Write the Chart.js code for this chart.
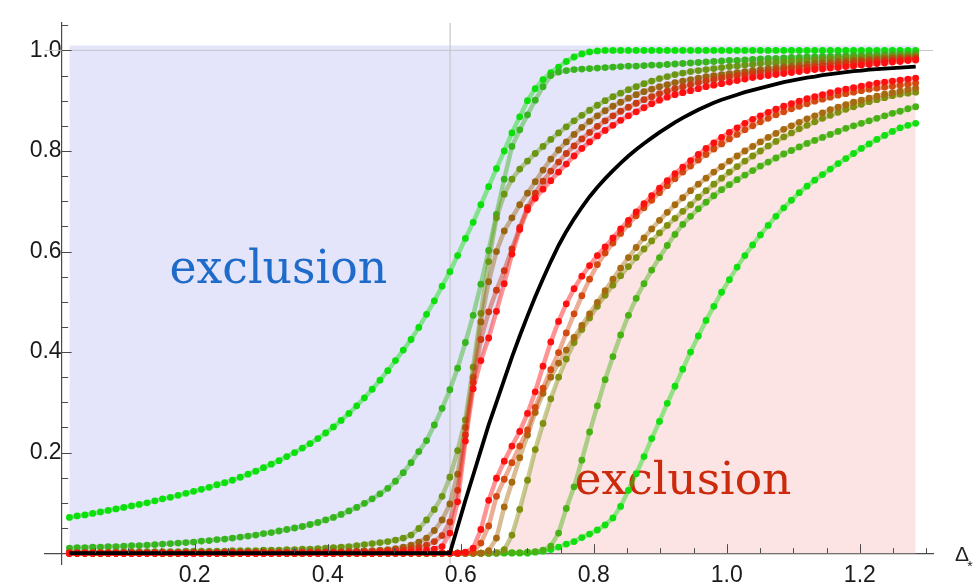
<!DOCTYPE html>
<html>
<head>
<meta charset="utf-8">
<title>Δ* exclusion curves</title>
<script src="https://cdn.jsdelivr.net/npm/chart.js@4.4.1/dist/chart.umd.min.js"></script>
<style>
  html, body { margin: 0; padding: 0; background: #fff; }
  #wrap { position: relative; width: 979px; height: 587px; }
</style>
</head>
<body>
<div id="wrap"><canvas id="deltaChart" width="979" height="587"></canvas></div>
<script>
/* =========================================================================
   Δ* sweep — dotted curves, black reference curve, two exclusion regions
   ========================================================================= */
'use strict';

/* Sample points on the Δ* axis */
const DELTA = [
  0.0117,0.0233,0.0350,0.0467,0.0584,0.0700,0.0817,0.0934,0.1051,0.1167,
  0.1284,0.1401,0.1517,0.1634,0.1751,0.1868,0.1984,0.2101,0.2218,0.2335,
  0.2451,0.2568,0.2685,0.2802,0.2918,0.3035,0.3152,0.3268,0.3385,0.3502,
  0.3619,0.3735,0.3852,0.3969,0.4086,0.4202,0.4319,0.4436,0.4552,0.4669,
  0.4786,0.4903,0.5019,0.5136,0.5253,0.5370,0.5486,0.5603,0.5720,0.5837,
  0.5953,0.6070,0.6187,0.6303,0.6420,0.6537,0.6654,0.6770,0.6887,0.7004,
  0.7120,0.7237,0.7354,0.7471,0.7587,0.7704,0.7821,0.7937,0.8054,0.8171,
  0.8288,0.8404,0.8521,0.8638,0.8755,0.8871,0.8988,0.9105,0.9221,0.9338,
  0.9455,0.9572,0.9688,0.9805,0.9922,1.0039,1.0155,1.0272,1.0389,1.0505,
  1.0622,1.0739,1.0856,1.0972,1.1089,1.1206,1.1322,1.1439,1.1556,1.1673,
  1.1789,1.1906,1.2023,1.2140,1.2256,1.2373,1.2490,1.2606,1.2723,1.2840
];

/* Upper family (rises before the black curve) */
const UP_GREEN = [
  0.071,0.074,0.076,0.079,0.082,0.085,0.088,0.091,0.094,0.097,
  0.100,0.104,0.108,0.111,0.115,0.119,0.123,0.127,0.131,0.136,
  0.140,0.145,0.151,0.157,0.163,0.170,0.177,0.184,0.192,0.200,
  0.209,0.218,0.228,0.239,0.251,0.264,0.278,0.293,0.309,0.326,
  0.344,0.363,0.383,0.404,0.425,0.449,0.475,0.502,0.531,0.560,
  0.592,0.626,0.658,0.693,0.729,0.765,0.800,0.836,0.868,0.900,
  0.924,0.942,0.956,0.967,0.978,0.987,0.993,0.997,0.999,1.000,
  1.000,1.000,1.000,1.000,1.000,1.000,1.000,1.000,1.000,1.000,
  1.000,1.000,1.000,1.000,1.000,1.000,1.000,1.000,1.000,1.000,
  1.000,1.000,1.000,1.000,1.000,1.000,1.000,1.000,1.000,1.000,
  1.000,1.000,1.000,1.000,1.000,1.000,1.000,1.000,1.000,1.000
];
const UP_MIDGREEN = [
  0.010,0.011,0.011,0.012,0.012,0.013,0.013,0.014,0.015,0.015,
  0.016,0.017,0.018,0.019,0.020,0.021,0.022,0.024,0.025,0.027,
  0.028,0.030,0.032,0.034,0.036,0.039,0.041,0.044,0.047,0.050,
  0.053,0.057,0.061,0.066,0.071,0.077,0.084,0.091,0.099,0.108,
  0.118,0.129,0.143,0.160,0.180,0.202,0.224,0.255,0.288,0.325,
  0.368,0.419,0.473,0.535,0.602,0.674,0.744,0.809,0.842,0.872,
  0.901,0.928,0.950,0.957,0.960,0.962,0.963,0.964,0.965,0.966,
  0.967,0.968,0.969,0.969,0.970,0.971,0.971,0.972,0.973,0.974,
  0.975,0.976,0.977,0.978,0.979,0.980,0.980,0.981,0.982,0.983,
  0.984,0.984,0.985,0.986,0.986,0.987,0.987,0.988,0.988,0.989,
  0.989,0.990,0.990,0.991,0.991,0.992,0.992,0.993,0.993,0.994
];
const UP_OLIVE = [
  0.002,0.002,0.002,0.002,0.002,0.002,0.003,0.003,0.003,0.003,
  0.003,0.003,0.003,0.003,0.003,0.004,0.004,0.004,0.004,0.004,
  0.004,0.005,0.005,0.005,0.005,0.006,0.006,0.006,0.007,0.007,
  0.008,0.008,0.009,0.010,0.011,0.012,0.013,0.015,0.017,0.019,
  0.021,0.023,0.026,0.030,0.036,0.049,0.066,0.087,0.113,0.151,
  0.204,0.265,0.370,0.477,0.580,0.667,0.714,0.744,0.764,0.780,
  0.795,0.809,0.823,0.836,0.848,0.860,0.871,0.881,0.891,0.900,
  0.908,0.915,0.922,0.928,0.934,0.939,0.944,0.948,0.952,0.955,
  0.958,0.960,0.962,0.964,0.966,0.968,0.969,0.971,0.972,0.974,
  0.975,0.976,0.977,0.978,0.979,0.980,0.981,0.982,0.983,0.984,
  0.985,0.985,0.986,0.987,0.987,0.988,0.989,0.989,0.990,0.991
];
const UP_BROWN = [
  0.001,0.001,0.001,0.001,0.001,0.001,0.001,0.001,0.001,0.001,
  0.001,0.001,0.001,0.001,0.001,0.001,0.001,0.001,0.001,0.001,
  0.002,0.002,0.002,0.002,0.002,0.002,0.002,0.002,0.002,0.002,
  0.003,0.003,0.003,0.003,0.003,0.003,0.004,0.004,0.004,0.005,
  0.006,0.007,0.009,0.012,0.016,0.022,0.030,0.045,0.066,0.098,
  0.157,0.250,0.350,0.460,0.540,0.600,0.641,0.667,0.693,0.716,
  0.739,0.762,0.784,0.802,0.818,0.833,0.847,0.859,0.870,0.880,
  0.889,0.897,0.905,0.912,0.918,0.923,0.928,0.932,0.936,0.939,
  0.942,0.945,0.948,0.950,0.952,0.954,0.956,0.958,0.960,0.962,
  0.964,0.966,0.968,0.969,0.971,0.972,0.974,0.975,0.976,0.978,
  0.979,0.980,0.981,0.982,0.983,0.984,0.985,0.986,0.986,0.987
];
const UP_DARKRED = [
  0,0,0,0,0,0,0,0,0,0,
  0,0,0,0,0,0,0,0,0,0,
  0.001,0.001,0.001,0.001,0.001,0.001,0.001,0.001,0.001,0.001,
  0.001,0.001,0.001,0.002,0.002,0.002,0.002,0.003,0.003,0.003,
  0.004,0.005,0.006,0.007,0.009,0.012,0.016,0.023,0.035,0.062,
  0.125,0.235,0.340,0.425,0.480,0.523,0.562,0.605,0.648,0.688,
  0.716,0.740,0.760,0.778,0.795,0.810,0.824,0.837,0.849,0.860,
  0.870,0.879,0.887,0.895,0.902,0.908,0.914,0.919,0.924,0.928,
  0.932,0.936,0.939,0.942,0.945,0.947,0.950,0.952,0.954,0.956,
  0.958,0.960,0.962,0.964,0.965,0.967,0.968,0.970,0.971,0.973,
  0.974,0.975,0.977,0.978,0.979,0.980,0.981,0.982,0.983,0.984
];
const UP_RED = [
  0,0,0,0,0,0,0,0,0,0,
  0,0,0,0,0,0,0,0,0,0,
  0,0,0,0,0,0,0,0,0,0,
  0,0,0,0,0,0,0,0,0,0,
  0.001,0.001,0.002,0.002,0.003,0.004,0.006,0.008,0.013,0.040,
  0.102,0.223,0.327,0.383,0.428,0.481,0.536,0.595,0.644,0.683,
  0.706,0.724,0.741,0.758,0.774,0.790,0.805,0.818,0.830,0.841,
  0.851,0.861,0.870,0.878,0.886,0.894,0.901,0.907,0.912,0.916,
  0.920,0.924,0.928,0.931,0.934,0.937,0.940,0.943,0.946,0.948,
  0.950,0.952,0.954,0.956,0.958,0.960,0.962,0.963,0.965,0.966,
  0.968,0.969,0.971,0.972,0.974,0.975,0.977,0.978,0.980,0.981
];

/* Black reference curve */
const BLACK = [
  0,0,0,0,0,0,0,0,0,0,
  0,0,0,0,0,0,0,0,0,0,
  0,0,0,0,0,0,0,0,0,0,
  0,0,0,0,0,0,0,0,0,0,
  0,0,0,0,0,0,0,0,0,0,
  0.052,0.105,0.155,0.205,0.255,0.300,0.345,0.390,0.432,0.472,
  0.510,0.546,0.580,0.612,0.640,0.665,0.688,0.709,0.728,0.745,
  0.761,0.776,0.790,0.803,0.815,0.826,0.837,0.847,0.857,0.866,
  0.874,0.882,0.889,0.896,0.902,0.907,0.912,0.917,0.921,0.925,
  0.929,0.933,0.937,0.940,0.943,0.946,0.948,0.951,0.953,0.955,
  0.957,0.959,0.960,0.962,0.963,0.964,0.965,0.966,0.967,0.968
];

/* Lower family (rises after the black curve) */
const LO_RED = [
  0,0,0,0,0,0,0,0,0,0,
  0,0,0,0,0,0,0,0,0,0,
  0,0,0,0,0,0,0,0,0,0,
  0,0,0,0,0,0,0,0,0,0,
  0,0,0,0,0,0,0,0,0,0,
  0.000,0.002,0.010,0.047,0.105,0.149,0.183,0.213,0.242,0.278,
  0.321,0.372,0.420,0.461,0.496,0.526,0.551,0.572,0.592,0.609,
  0.627,0.645,0.662,0.679,0.695,0.711,0.726,0.741,0.755,0.768,
  0.781,0.793,0.805,0.816,0.827,0.837,0.846,0.855,0.863,0.870,
  0.877,0.883,0.889,0.894,0.899,0.904,0.908,0.912,0.916,0.920,
  0.923,0.926,0.929,0.932,0.935,0.937,0.939,0.941,0.943,0.945
];
const LO_ORANGE = [
  0,0,0,0,0,0,0,0,0,0,
  0,0,0,0,0,0,0,0,0,0,
  0,0,0,0,0,0,0,0,0,0,
  0,0,0,0,0,0,0,0,0,0,
  0,0,0,0,0,0,0,0,0,0,
  0.000,0.000,0.002,0.020,0.054,0.113,0.147,0.180,0.213,0.245,
  0.290,0.328,0.365,0.399,0.438,0.476,0.512,0.545,0.574,0.597,
  0.617,0.636,0.654,0.671,0.687,0.702,0.717,0.731,0.745,0.758,
  0.770,0.782,0.793,0.804,0.814,0.824,0.833,0.842,0.850,0.858,
  0.865,0.872,0.878,0.884,0.889,0.894,0.899,0.903,0.907,0.911,
  0.914,0.917,0.920,0.923,0.925,0.927,0.929,0.931,0.933,0.935
];
const LO_BROWN = [
  0,0,0,0,0,0,0,0,0,0,
  0,0,0,0,0,0,0,0,0,0,
  0,0,0,0,0,0,0,0,0,0,
  0,0,0,0,0,0,0,0,0,0,
  0,0,0,0,0,0,0,0,0,0,
  0.000,0.000,0.000,0.000,0.005,0.030,0.092,0.141,0.190,0.235,
  0.280,0.318,0.350,0.378,0.404,0.429,0.453,0.476,0.499,0.522,
  0.545,0.567,0.588,0.608,0.627,0.645,0.662,0.678,0.693,0.707,
  0.721,0.734,0.746,0.758,0.769,0.780,0.790,0.800,0.809,0.818,
  0.827,0.835,0.843,0.850,0.857,0.864,0.870,0.876,0.882,0.887,
  0.892,0.897,0.901,0.905,0.909,0.913,0.916,0.919,0.922,0.925
];
const LO_OLIVE = [
  0,0,0,0,0,0,0,0,0,0,
  0,0,0,0,0,0,0,0,0,0,
  0,0,0,0,0,0,0,0,0,0,
  0,0,0,0,0,0,0,0,0,0,
  0,0,0,0,0,0,0,0,0,0,
  0.000,0.000,0.000,0.000,0.000,0.001,0.007,0.036,0.087,0.145,
  0.206,0.258,0.307,0.350,0.386,0.419,0.445,0.468,0.491,0.513,
  0.533,0.552,0.570,0.588,0.605,0.621,0.637,0.652,0.666,0.680,
  0.693,0.708,0.721,0.734,0.746,0.758,0.769,0.780,0.790,0.800,
  0.810,0.819,0.828,0.836,0.844,0.851,0.858,0.865,0.871,0.877,
  0.883,0.888,0.893,0.898,0.902,0.906,0.910,0.913,0.915,0.917
];
const LO_MIDGREEN = [
  0,0,0,0,0,0,0,0,0,0,
  0,0,0,0,0,0,0,0,0,0,
  0,0,0,0,0,0,0,0,0,0,
  0,0,0,0,0,0,0,0,0,0,
  0,0,0,0,0,0,0,0,0,0,
  0.000,0.000,0.000,0.000,0.000,0.000,0.001,0.001,0.001,0.002,
  0.003,0.006,0.014,0.040,0.089,0.132,0.185,0.241,0.293,0.345,
  0.391,0.434,0.473,0.507,0.536,0.563,0.588,0.612,0.634,0.654,
  0.670,0.685,0.698,0.711,0.723,0.733,0.743,0.752,0.761,0.770,
  0.778,0.786,0.794,0.801,0.808,0.815,0.821,0.827,0.833,0.839,
  0.845,0.850,0.855,0.860,0.865,0.870,0.875,0.879,0.884,0.888
];
const LO_GREEN = [
  0,0,0,0,0,0,0,0,0,0,
  0,0,0,0,0,0,0,0,0,0,
  0,0,0,0,0,0,0,0,0,0,
  0,0,0,0,0,0,0,0,0,0,
  0,0,0,0,0,0,0,0,0,0,
  0,0,0,0,0,0,0,0,0,0,
  0.002,0.004,0.007,0.012,0.018,0.023,0.031,0.038,0.046,0.056,
  0.070,0.093,0.125,0.158,0.192,0.228,0.262,0.298,0.332,0.366,
  0.400,0.432,0.463,0.491,0.519,0.544,0.569,0.592,0.613,0.633,
  0.652,0.670,0.687,0.702,0.717,0.730,0.742,0.753,0.764,0.775,
  0.785,0.795,0.805,0.814,0.823,0.831,0.839,0.846,0.851,0.855
];

/* Axis ticks and reference lines */
const X_TICKS = [0.2, 0.4, 0.6, 0.8, 1.0, 1.2];
const Y_TICKS = [0.2, 0.4, 0.6, 0.8, 1.0];
const X_MIN = -0.025, X_MAX = 1.31;
const Y_MIN = -0.022, Y_MAX = 1.055;
const GAP_X = 0.584;     // vertical grid line
const UNIT_Y = 1;        // horizontal grid line
const BLUE_TOP = 1.01;   // upper edge of the blue band

const LABEL_FONT = "'Liberation Sans', Arial, sans-serif";

function fade(hex, a) {
    var n = parseInt(hex.slice(1), 16);
    return 'rgba(' + (n >> 16) + ',' + ((n >> 8) & 255) + ',' + (n & 255) + ',' + a + ')';
}

function pts(ys) {
    return DELTA.map(function (x, i) { return { x: x, y: ys[i] }; });
}

function dotted(label, ys, color, order) {
    return {
        label: label, data: pts(ys), order: order,
        borderColor: fade(color, 0.45), borderWidth: 4.5,
        pointRadius: 3.4, pointHoverRadius: 3.4, pointBorderWidth: 0,
        pointBackgroundColor: color, fill: false
    };
}

var datasets = [
    dotted('up green', UP_GREEN, '#0ce00c', 20),
    dotted('up mid green', UP_MIDGREEN, '#36b51e', 19),
    dotted('up olive', UP_OLIVE, '#6a9612', 18),
    dotted('up brown', UP_BROWN, '#9a6512', 17),
    dotted('up dark red', UP_DARKRED, '#cc3a12', 16),
    dotted('up red', UP_RED, '#ff1010', 15),
    dotted('lo green', LO_GREEN, '#10e010', 20),
    dotted('lo mid green', LO_MIDGREEN, '#48b215', 19),
    dotted('lo olive', LO_OLIVE, '#7f9010', 18),
    dotted('lo brown', LO_BROWN, '#a86a10', 17),
    dotted('lo orange', LO_ORANGE, '#d24a10', 16),
    dotted('lo red', LO_RED, '#ff1010', 15),
    {
        label: 'reference', data: pts(BLACK), order: 1,
        borderColor: '#000', borderWidth: 3.8, pointRadius: 0, fill: false
    }
];
var upRedIndex = 5;

// Shaded exclusion regions: blue above the upper red curve, pink under the lower olive one
datasets.push({
    label: 'blue band', order: 100,
    data: DELTA.map(function (x) { return { x: x, y: BLUE_TOP }; }),
    borderWidth: 0, pointRadius: 0,
    backgroundColor: '#e4e4fa', fill: { target: upRedIndex }
});
datasets.push({
    label: 'pink band', order: 100, data: pts(LO_OLIVE),
    borderWidth: 0, pointRadius: 0,
    backgroundColor: '#fde4e4', fill: 'origin'
});

// Thin grid lines at the gap and at y = 1
datasets.push({
    label: 'gap line', order: 90,
    data: [{ x: GAP_X, y: Y_MIN }, { x: GAP_X, y: Y_MAX }],
    borderColor: '#c6c6c6', borderWidth: 1.2, pointRadius: 0, fill: false
});
datasets.push({
    label: 'unit line', order: 90,
    data: [{ x: X_MIN, y: UNIT_Y }, { x: X_MAX, y: UNIT_Y }],
    borderColor: '#c6c6cc', borderWidth: 1, pointRadius: 0, fill: false
});

/* Inward major/minor tick marks, Mathematica style */
var axisTicks = {
    id: 'axisTicks',
    afterDraw: function (chart) {
        var ctx = chart.ctx, xs = chart.scales.x, ys = chart.scales.y;
        var x0 = xs.getPixelForValue(0), y0 = ys.getPixelForValue(0);
        ctx.save();
        ctx.strokeStyle = '#4a4a4a';
        ctx.lineWidth = 1;
        ctx.beginPath();
        for (var k = 1; k <= 26; k++) {
            var px = Math.round(xs.getPixelForValue(k * 0.05)) + 0.5;
            ctx.moveTo(px, y0);
            ctx.lineTo(px, y0 - (k % 4 === 0 ? 9 : 5));
        }
        for (var j = 1; j <= 21; j++) {
            var py = Math.round(ys.getPixelForValue(j * 0.05)) + 0.5;
            ctx.moveTo(x0, py);
            ctx.lineTo(x0 + (j % 4 === 0 ? 10 : 6.5), py);
        }
        ctx.stroke();
        ctx.restore();
    }
};

/* Region captions and the axis name */
function caption(ctx, text, x, y, width, color) {
    ctx.font = '40px "DejaVu Serif", serif';
    var size = 40 * width / ctx.measureText(text).width;
    ctx.font = size.toFixed(1) + 'px "DejaVu Serif", serif';
    ctx.fillStyle = color;
    ctx.textBaseline = 'alphabetic';
    ctx.textAlign = 'left';
    ctx.fillText(text, x, y);
}

var captions = {
    id: 'captions',
    beforeDatasetsDraw: function (chart) {
        var ctx = chart.ctx, xs = chart.scales.x, ys = chart.scales.y;
        ctx.save();
        caption(ctx, 'exclusion', xs.getPixelForValue(0.162), ys.getPixelForValue(0.538), 218, '#1e6bc9');
        caption(ctx, 'exclusion', xs.getPixelForValue(0.771), ys.getPixelForValue(0.117), 217, '#cc2a0c');
        ctx.restore();
    },
    afterDraw: function (chart) {
        var ctx = chart.ctx, xs = chart.scales.x, ys = chart.scales.y;
        var left = xs.right + 22, base = ys.getPixelForValue(0);
        ctx.save();
        ctx.fillStyle = '#222';
        ctx.textAlign = 'left';
        ctx.textBaseline = 'alphabetic';
        ctx.font = '21px ' + LABEL_FONT;
        ctx.fillText('Δ', left, base + 8);
        ctx.font = '14px ' + LABEL_FONT;
        ctx.fillText('*', left + ctx.measureText('Δ').width + 3, base + 18);
        ctx.restore();
    }
};

new Chart(document.getElementById('deltaChart'), {
    type: 'line',
    data: { datasets: datasets },
    plugins: [axisTicks, captions],
    options: {
        responsive: false,
        animation: false,
        devicePixelRatio: 1,
        parsing: false,
        normalized: true,
        layout: { padding: { left: 45, right: 46, top: 15, bottom: 22 } },
        elements: { line: { tension: 0 } },
        plugins: {
            legend: { display: false },
            tooltip: { enabled: false },
            filler: { drawTime: 'beforeDatasetsDraw' }
        },
        scales: {
            x: {
                type: 'linear', min: X_MIN, max: X_MAX,
                position: { y: 0 },
                grid: { display: false, drawTicks: false },
                border: { display: true, color: '#4a4a4a', width: 1.2 },
                afterBuildTicks: function (s) { s.ticks = X_TICKS.map(function (v) { return { value: v }; }); },
                ticks: {
                    autoSkip: false, maxRotation: 0, padding: 9, color: '#1a1a1a',
                    font: { family: LABEL_FONT, size: 23 },
                    callback: function (v) { return v.toFixed(1); }
                }
            },
            y: {
                type: 'linear', min: Y_MIN, max: Y_MAX,
                position: { x: 0 },
                grid: { display: false, drawTicks: false },
                border: { display: true, color: '#4a4a4a', width: 1.2 },
                afterBuildTicks: function (s) { s.ticks = Y_TICKS.map(function (v) { return { value: v }; }); },
                ticks: {
                    autoSkip: false, padding: 9, color: '#1a1a1a',
                    font: { family: LABEL_FONT, size: 23 },
                    callback: function (v) { return v.toFixed(1); }
                }
            }
        }
    }
});
</script>
</body>
</html>
